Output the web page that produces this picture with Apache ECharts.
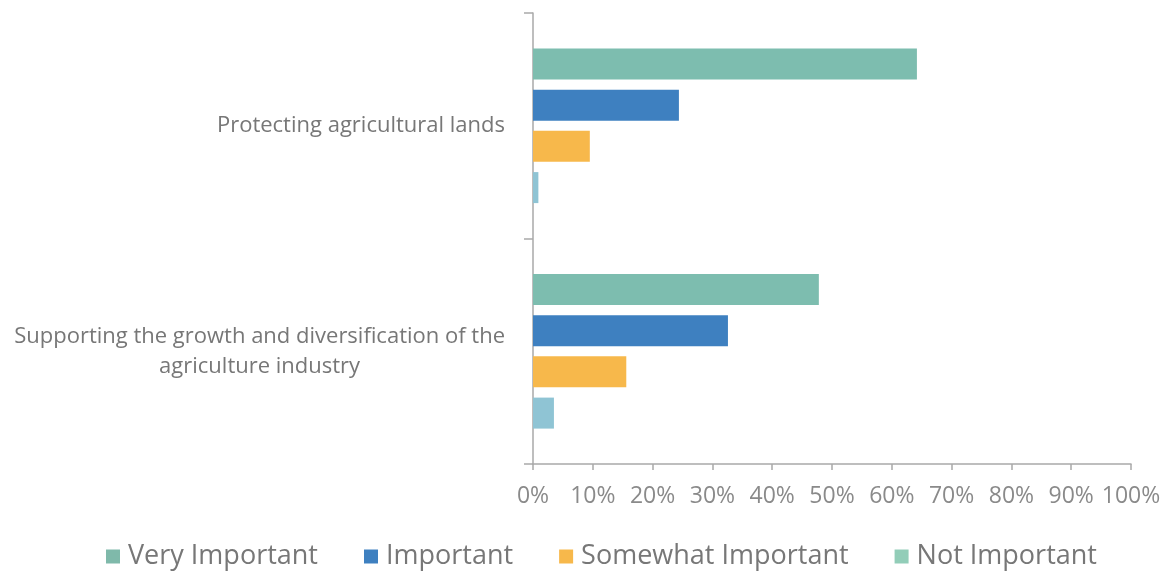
<!DOCTYPE html>
<html>
<head>
<meta charset="utf-8">
<script src="https://cdn.jsdelivr.net/npm/echarts@6/dist/echarts.min.js"></script>
<style>
html,body{margin:0;padding:0;background:#fff;}
#chart{width:1167px;height:571px;}
</style>
</head>
<body>
<div id="chart"></div>
<script>
const categories = [
  'Protecting agricultural lands',
  'Supporting the growth and diversification of the\nagriculture industry'
];
const seriesNames = ['Very Important', 'Important', 'Somewhat Important', 'Not Important'];
const veryImportant = [64.2, 47.8];
const important = [24.4, 32.6];
const somewhatImportant = [9.5, 15.6];
const notImportant = [0.9, 3.5];
const xTicks = [0, 10, 20, 30, 40, 50, 60, 70, 80, 90, 100];

const colors = ['#7dbdaf', '#3e80c0', '#f7b84b', '#8fc4d4'];
const legendColors = ['#7fb9aa', '#3e80c0', '#f7b84b', '#92cdb8'];
const values = [veryImportant, important, somewhatImportant, notImportant];
const FONT = '"Open Sans", "DejaVu Sans", sans-serif';

const chart = echarts.init(document.getElementById('chart'));
chart.setOption({
  animation: false,
  backgroundColor: '#ffffff',
  grid: { left: 533, right: 36, top: 13, bottom: 107, containLabel: false },
  legend: {
    top: 538,
    left: 101,
    itemWidth: 14,
    itemHeight: 14,
    itemGap: 46,
    icon: 'rect',
    textStyle: { fontFamily: FONT, fontSize: 27, color: '#777777', padding: [0, 0, 0, 3] },
    data: seriesNames.map((n, i) => ({ name: n, itemStyle: { color: legendColors[i] } }))
  },
  xAxis: {
    type: 'value',
    min: xTicks[0],
    max: xTicks[xTicks.length - 1],
    interval: 10,
    axisLine: { show: true, lineStyle: { color: '#a9a9a9', width: 1.5 } },
    axisTick: { show: true, length: 6, lineStyle: { color: '#a9a9a9', width: 1.5 } },
    splitLine: { show: false },
    axisLabel: {
      formatter: v => v + '%',
      fontFamily: FONT, fontSize: 23, color: '#8a8a8a', margin: 21
    }
  },
  yAxis: {
    type: 'category',
    inverse: true,
    data: categories,
    axisLine: { show: true, lineStyle: { color: '#a9a9a9', width: 1.5 } },
    axisTick: { show: true, length: 9, lineStyle: { color: '#a9a9a9', width: 1.5 } },
    axisLabel: {
      margin: 28,
      formatter: v => v.split('\n').map(s => '{c|' + s + '}').join('\n'),
      rich: {
        c: { fontFamily: FONT, fontSize: 22, color: '#777777', align: 'center', lineHeight: 30 }
      }
    }
  },
  series: seriesNames.map((name, i) => ({
    name: name,
    type: 'bar',
    data: values[i],
    barWidth: 31,
    barGap: '33%',
    itemStyle: { color: colors[i] }
  }))
});
</script>
</body>
</html>
